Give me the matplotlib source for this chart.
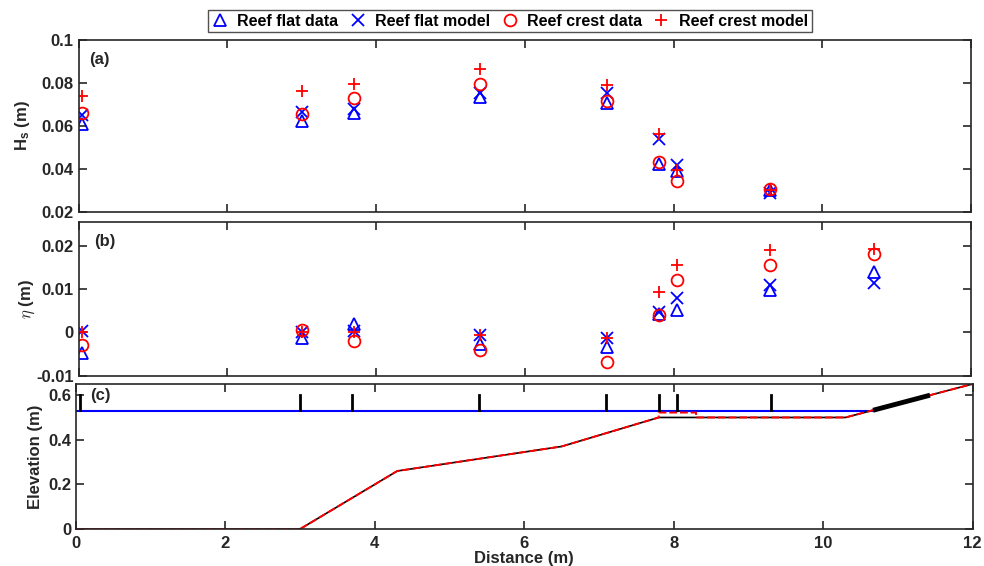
import matplotlib
matplotlib.use('Agg')
import matplotlib.pyplot as plt
from matplotlib.lines import Line2D

plt.rcParams['font.family'] = ['Liberation Sans', 'DejaVu Sans']
plt.rcParams['font.weight'] = 'bold'
plt.rcParams['font.size'] = 12
plt.rcParams['axes.labelweight'] = 'bold'
plt.rcParams['mathtext.fontset'] = 'custom'
plt.rcParams['mathtext.rm'] = 'Liberation Sans:bold'
plt.rcParams['mathtext.it'] = 'Liberation Sans:bold:italic'
plt.rcParams['mathtext.bf'] = 'Liberation Sans:bold'

# gauge locations (m)
stations = [0.05, 3.0, 3.7, 5.4, 7.1, 7.8, 8.05, 9.3, 10.7]
hs_stations = stations[:8]

# (a) significant wave height (m)
hs_flat_data = [0.061, 0.0622, 0.066, 0.0735, 0.0704, 0.0423, 0.039, 0.0301]
hs_flat_model = [0.065, 0.0665, 0.068, 0.0752, 0.0755, 0.0537, 0.0415, 0.0288]
hs_crest_data = [0.0658, 0.0654, 0.0729, 0.0797, 0.0716, 0.0431, 0.034, 0.0306]
hs_crest_model = [0.0738, 0.0763, 0.0794, 0.0864, 0.0789, 0.0563, 0.0392, 0.0302]

# (b) setup (m)
eta_flat_data = [-0.0049, -0.0014, 0.0020, -0.0028, -0.0035, 0.0042, 0.0051, 0.0097, 0.0140]
eta_flat_model = [0.0002, 0.0001, 0.0003, -0.0006, -0.0013, 0.0046, 0.0080, 0.0110, 0.0114]
eta_crest_data = [-0.0029, 0.0006, -0.0020, -0.0042, -0.0068, 0.0040, 0.0120, 0.0156, 0.0180]
eta_crest_model = [0.0001, 0.0000, 0.0000, -0.0007, -0.0014, 0.0093, 0.0156, 0.0190, 0.0193]

# (c) profiles
bed_x = [0, 3.0, 4.3, 6.5, 7.8, 10.3, 12]
bed_z = [0, 0, 0.26, 0.37, 0.50, 0.50, 0.65]
crest_x = [0, 3.0, 4.3, 6.5, 7.8, 7.8, 8.3, 8.3, 10.3, 12]
crest_z = [0, 0, 0.26, 0.37, 0.50, 0.522, 0.522, 0.50, 0.50, 0.65]
swl_x = [0, 10.7]
swl_z = [0.53, 0.53]
gauge_x = stations[:8]
gauge_z = [0.535, 0.60]
beach_x = [10.7, 11.4]
beach_z = [0.535, 0.597]

dark = '#262626'
W, H = 984, 566
fig = plt.figure(figsize=(W / 100, H / 100), dpi=100)


def add_ax(l, r, t, b):
    return fig.add_axes([l / W, 1 - b / H, (r - l) / W, (b - t) / H])


ax1 = add_ax(78.5, 971, 40, 211.5)
ax2 = add_ax(78.5, 971, 222, 375.5)
ax3 = add_ax(76, 972.5, 384, 529)

mk = dict(linestyle='none', markersize=8.5, markerfacecolor='none', markeredgewidth=1.3)
ax1.plot(hs_stations, hs_flat_data, '^', color='b', **mk)
ax1.plot(hs_stations, hs_flat_model, 'x', color='b', **mk)
ax1.plot(hs_stations, hs_crest_data, 'o', color='r', **mk)
ax1.plot(hs_stations, hs_crest_model, '+', color='r', **mk)

ax2.plot(stations, eta_flat_data, '^', color='b', **mk)
ax2.plot(stations, eta_flat_model, 'x', color='b', **mk)
ax2.plot(stations, eta_crest_data, 'o', color='r', **mk)
ax2.plot(stations, eta_crest_model, '+', color='r', **mk)

ax3.plot(swl_x, swl_z, color='b', linewidth=1.5)
ax3.plot(bed_x, bed_z, color='k', linewidth=1.2)
ax3.plot(crest_x, crest_z, color='r', linestyle=(0, (4, 1.5)), linewidth=1.4)
for gx in gauge_x:
    ax3.plot([gx, gx], gauge_z, color='k', linewidth=2)
ax3.plot(beach_x, beach_z, color='k', linewidth=3.5)

for ax in (ax1, ax2, ax3):
    ax.set_xlim(0, 12)
    ax.set_xticks(range(0, 13, 2))
    ax.tick_params(direction='in', top=True, right=True, length=6, width=1.2,
                   colors=dark, labelsize=12)
    for s in ax.spines.values():
        s.set_color(dark)
        s.set_linewidth(1.2)
ax3.tick_params(axis='x', pad=5)

ax1.set_ylim(0.02, 0.1)
ax1.set_yticks([0.02, 0.04, 0.06, 0.08, 0.1])
ax1.set_yticklabels(['0.02', '0.04', '0.06', '0.08', '0.1'])
ax1.set_xticklabels([])
ax1.set_ylabel('$\\mathrm{H}_\\mathrm{s}$ (m)', color=dark, fontsize=12)
ax1.yaxis.set_label_coords(-0.052, 0.5)
ax1.text(0.012, 0.93, '(a)', transform=ax1.transAxes, fontsize=12, fontweight='bold',
         va='top', color=dark)

ax2.set_ylim(-0.01, 0.0255)
ax2.set_yticks([-0.01, 0, 0.01, 0.02])
ax2.set_yticklabels(['-0.01', '0', '0.01', '0.02'])
ax2.set_xticklabels([])
lab2 = ax2.set_ylabel('$\\eta$ (m)', color=dark)
lab2.set_math_fontfamily('cm')
ax2.yaxis.set_label_coords(-0.047, 0.5)
ax2.text(0.017, 0.92, '(b)', transform=ax2.transAxes, fontsize=12, fontweight='bold',
         va='top', color=dark)

ax3.set_ylim(0, 0.65)
ax3.set_yticks([0, 0.2, 0.4, 0.6])
ax3.set_yticklabels(['0', '0.2', '0.4', '0.6'])
ax3.set_ylabel('Elevation (m)', color=dark)
ax3.yaxis.set_label_coords(-0.037, 0.5)
ax3.set_xlabel('Distance (m)', color=dark, labelpad=0)
ax3.text(0.016, 0.97, '(c)', transform=ax3.transAxes, fontsize=12, fontweight='bold',
         va='top', color=dark)

handles = [
    Line2D([], [], marker='^', color='b', **mk),
    Line2D([], [], marker='x', color='b', **mk),
    Line2D([], [], marker='o', color='r', **mk),
    Line2D([], [], marker='+', color='r', **mk),
]
labels = ['Reef flat data', 'Reef flat model', 'Reef crest data', 'Reef crest model']
leg = fig.legend(handles, labels, loc='center', bbox_to_anchor=(510 / W, 1 - 21 / H),
                 ncol=4, frameon=True, fancybox=False, edgecolor=dark, fontsize=11.5,
                 handlelength=1.0, handletextpad=0.6, columnspacing=0.7,
                 borderpad=0.25)
leg.get_frame().set_linewidth(1.0)

fig.savefig('out.png', dpi=100)
